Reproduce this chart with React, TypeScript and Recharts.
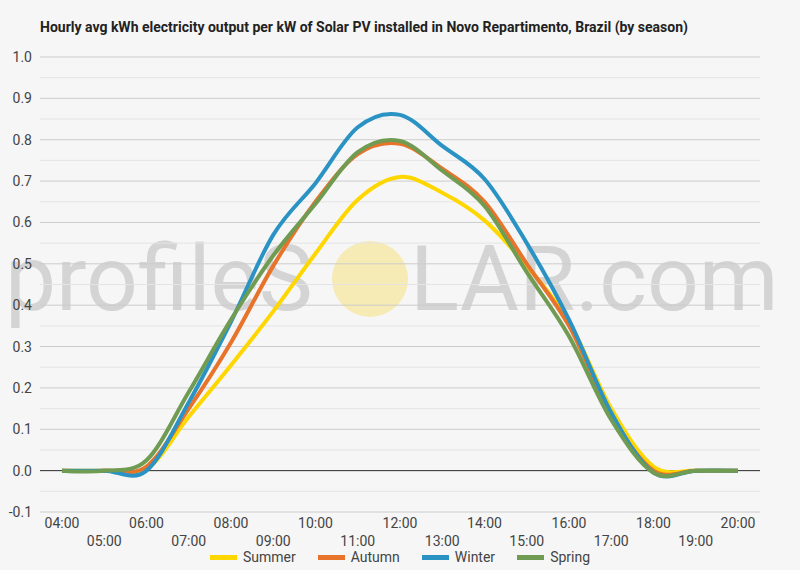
import React from 'react';
import { LineChart, Line, XAxis, YAxis, CartesianGrid, ReferenceLine } from 'recharts';

const hours = ['04:00', '05:00', '06:00', '07:00', '08:00', '09:00', '10:00', '11:00', '12:00', '13:00', '14:00', '15:00', '16:00', '17:00', '18:00', '19:00', '20:00'];
const summer = [0, 0, 0.003, 0.13, 0.255, 0.385, 0.525, 0.655, 0.71, 0.672, 0.605, 0.495, 0.36, 0.15, 0.01, 0, 0];
const autumn = [0, 0, 0.01, 0.15, 0.31, 0.495, 0.65, 0.765, 0.79, 0.73, 0.65, 0.5, 0.35, 0.135, 0.0, 0, 0];
const winter = [0, 0, 0.0, 0.165, 0.36, 0.57, 0.695, 0.83, 0.86, 0.785, 0.705, 0.55, 0.365, 0.14, -0.005, 0, 0];
const spring = [0, 0, 0.025, 0.19, 0.365, 0.52, 0.645, 0.77, 0.797, 0.725, 0.64, 0.48, 0.325, 0.123, -0.005, 0, 0];
const yTicks = [-0.1, 0, 0.1, 0.2, 0.3, 0.4, 0.5, 0.6, 0.7, 0.8, 0.9, 1.0];
const minorTicks = [-0.05, 0.05, 0.15, 0.25, 0.35, 0.45, 0.55, 0.65, 0.75, 0.85, 0.95];

const series = [
  { key: 'Summer', color: '#FFD700', values: summer },
  { key: 'Autumn', color: '#E8732A', values: autumn },
  { key: 'Winter', color: '#2A93C4', values: winter },
  { key: 'Spring', color: '#6F9B52', values: spring },
];

const data = hours.map((h, i) => {
  const row: Record<string, any> = { hour: h };
  series.forEach((s) => { row[s.key] = s.values[i]; });
  return row;
});

const FONT = 'Roboto, "Noto Sans", sans-serif';

// Catmull-Rom (cardinal, tension 0) curve factory
function catmullRom(context: any) {
  const k = 1 / 6;
  const st: any = { _context: context, _line: NaN, _point: 0, _x0: NaN, _x1: NaN, _x2: NaN, _y0: NaN, _y1: NaN, _y2: NaN };
  const seg = (x: number, y: number) => {
    st._context.bezierCurveTo(
      st._x1 + k * (st._x2 - st._x0),
      st._y1 + k * (st._y2 - st._y0),
      st._x2 + k * (st._x1 - x),
      st._y2 + k * (st._y1 - y),
      st._x2,
      st._y2
    );
  };
  return {
    areaStart() { st._line = 0; },
    areaEnd() { st._line = NaN; },
    lineStart() {
      st._x0 = st._x1 = st._x2 = st._y0 = st._y1 = st._y2 = NaN;
      st._point = 0;
    },
    lineEnd() {
      switch (st._point) {
        case 2: st._context.lineTo(st._x2, st._y2); break;
        case 3: seg(st._x1, st._y1); break;
      }
      if (st._line || (st._line !== 0 && st._point === 1)) st._context.closePath();
      st._line = 1 - st._line;
    },
    point(xx: any, yy: any) {
      const x = +xx, y = +yy;
      switch (st._point) {
        case 0: st._point = 1; st._line ? st._context.lineTo(x, y) : st._context.moveTo(x, y); break;
        case 1: st._point = 2; st._x1 = x; st._y1 = y; break;
        case 2: st._point = 3; seg(x, y); break;
        default: seg(x, y); break;
      }
      st._x0 = st._x1; st._x1 = st._x2; st._x2 = x;
      st._y0 = st._y1; st._y1 = st._y2; st._y2 = y;
    },
  };
}

const XTick = (props: any) => {
  const { x, y, payload, index } = props;
  return (
    <text x={x} y={y + (index % 2 ? 26 : 8)} textAnchor="middle" fill="#444" fontSize={14} fontFamily={FONT}>
      {payload.value}
    </text>
  );
};

export default function App() {
  return (
    <div style={{ position: 'absolute', left: 0, top: 0, width: 800, height: 570, background: '#f6f6f6', overflow: 'hidden', fontFamily: FONT }}>
      <svg width={800} height={570} style={{ position: 'absolute', left: 0, top: 0 }}>
        <text x={40} y={32} fontSize={14} fontWeight="bold" fill="#222" fontFamily={FONT} textLength={648} lengthAdjust="spacingAndGlyphs">
          Hourly avg kWh electricity output per kW of Solar PV installed in Novo Repartimento, Brazil (by season)
        </text>
        <text x={5} y={310} fontSize={91} fill="#d4d4d4" fontFamily={FONT}>profileS</text>
        <circle cx={370} cy={279} r={38} fill="#f6ebb4" />
        <text x={410} y={310} fontSize={91} fill="#d4d4d4" fontFamily={FONT}>LAR.com</text>
      </svg>
      <div style={{ position: 'absolute', left: 0, top: 0 }}>
        <LineChart width={800} height={570} data={data} margin={{ top: 57, right: 40, left: 0, bottom: 18 }}>
          <CartesianGrid vertical={false} stroke="#cccccc" />
          {minorTicks.map((v) => (
            <ReferenceLine key={v} y={v} stroke="#e4e4e4" strokeWidth={1} />
          ))}
          <ReferenceLine y={0} stroke="#333" strokeWidth={1} />
          <XAxis dataKey="hour" interval={0} axisLine={false} tickLine={false} height={40} padding={{ left: 22, right: 22 }} tick={<XTick />} />
          <YAxis
            domain={[-0.1, 1.0]}
            ticks={yTicks}
            tickFormatter={(v: number) => v.toFixed(1)}
            axisLine={false}
            tickLine={false}
            width={40}
            tick={{ fill: '#444', fontSize: 14, fontFamily: FONT }}
          />
          {series.map((s) => (
            <Line key={s.key} type={catmullRom as any} dataKey={s.key} stroke={s.color} strokeWidth={4} dot={false} activeDot={false} isAnimationActive={false} />
          ))}
        </LineChart>
      </div>
      <div style={{ position: 'absolute', left: 0, top: 549, width: 800, display: 'flex', justifyContent: 'center', alignItems: 'center', fontSize: 14, color: '#444' }}>
        {series.map((s) => (
          <div key={s.key} style={{ display: 'flex', alignItems: 'center', margin: '0 11px' }}>
            <div style={{ width: 27, height: 5, background: s.color, marginRight: 6 }} />
            <span>{s.key}</span>
          </div>
        ))}
      </div>
    </div>
  );
}
